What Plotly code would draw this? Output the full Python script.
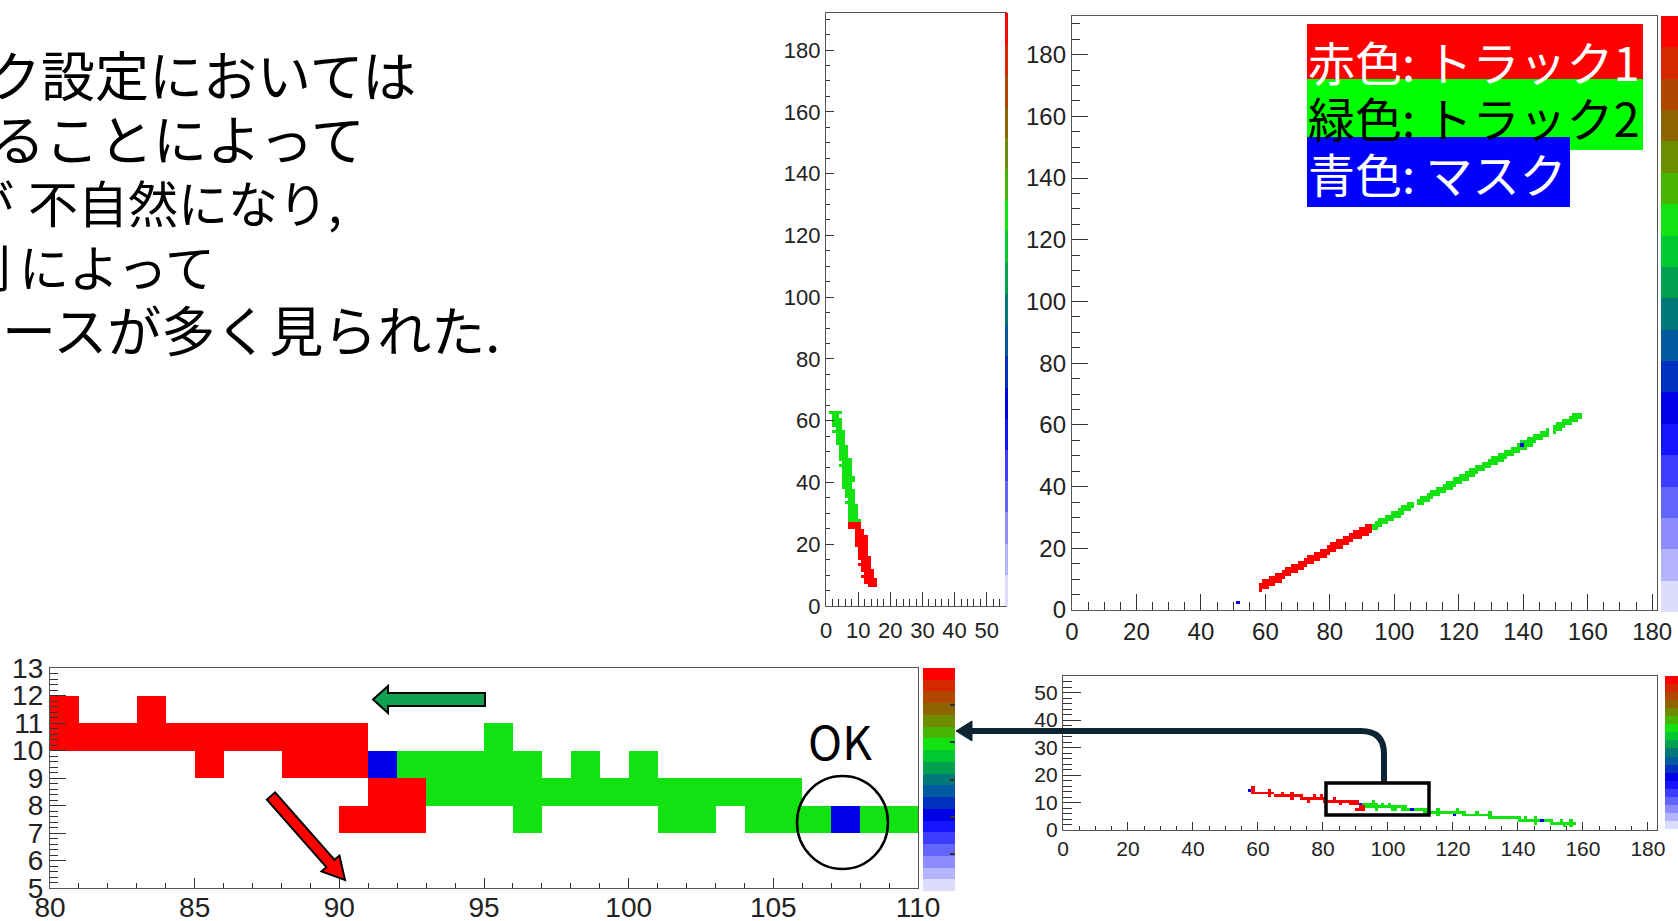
import plotly.graph_objects as go

W, H = 1678, 921

# ---------------- data ----------------
# values used for the colour of a cell
RED, GREEN, BLUE = 3, 2, 1

# Panel B (top right): per x-column, track cells from y_lo..y_hi
B_RED_X0 = 58
B_RED_LO = [6, 7, 7, 8, 8, 9, 9, 10, 11, 11, 12, 12, 13, 13, 14, 15, 15, 16, 16, 17,
            17, 18, 19, 19, 20, 20, 21, 21, 22, 23, 23, 23, 24, 24, 25]
B_RED_HI = [8, 9, 9, 10, 10, 11, 11, 12, 13, 13, 14, 14, 15, 15, 16, 17, 17, 18, 18, 19,
            19, 20, 21, 21, 22, 22, 23, 23, 24, 25, 25, 26, 26, 27, 27]
B_GREEN_X0 = 93
B_GREEN_LO = [26, 26, 27, 28, 28, 29, 29, 30, 30, 31, 32, 32, 33, None, 34, 34, 35, 35, 36, 37,
              37, 38, 38, 39, 39, 40, 41, 41, 42, 42, 43, 43, 44, 45, 45, 46, 46, 47, 47, 48,
              48, 49, 50, 50, 51, 51, 52, 52, 53, 53, 54, 55, 55, 56, 56, None, 57, 58, 58, 59,
              60, 60, 61, 61, 62]
B_GREEN_HI = [27, 28, 29, 29, 30, 30, 31, 31, 32, 33, 33, 34, 34, None, 35, 36, 36, 37, 38, 38,
              39, 39, 40, 41, 41, 42, 42, 43, 43, 44, 45, 45, 46, 46, 47, 47, 48, 49, 49, 50,
              50, 51, 51, 52, 52, 53, 54, 54, 55, 55, 56, 56, 57, 57, 58, None, 59, 60, 60, 61,
              61, 62, 63, 63, 63]
B_BLUE = [[139, 53], [51, 2]]

# Panel A (top middle): per y-row, track cells from x_lo..x_hi
A_RED_Y0 = 6
A_RED_LO = [13, 12, 12, 11, 12, 11, 11, 10, 11, 10, 10, 10, 10, 9, 9, 9, 9, 9, 9, 7, 7]
A_RED_HI = [15, 15, 15, 14, 14, 14, 13, 13, 13, 13, 12, 12, 12, 12, 12, 12, 12, 11, 11, 10, 10]
A_GREEN_Y0 = 27
A_GREEN_LO = [7, 7, 7, 7, 7, 7, 6, 7, 6, 6, 6, 5, 5, 5, 5, 5, 5, 5, 4, 5, 4, 4, 4, 4, 4, 3,
              3, 3, 3, 2, 3, 2, 2, 2, 2, 1]
A_GREEN_HI = [10, 9, 9, 9, 9, 9, 8, 8, 8, 8, 8, 7, 7, 8, 8, 7, 7, 7, 7, 7, 7, 6, 6, 6, 6, 5,
              5, 5, 5, 5, 4, 4, 4, 4, 3, 4]

# Panel C (bottom right) and its zoom, panel D (bottom left): cells [x, y]
C_RED = [[58, 13], [58, 14], [58, 15], [59, 13], [60, 13], [61, 13], [62, 13], [63, 12], [63, 13],
         [63, 14], [64, 13], [65, 12], [66, 12], [67, 12], [67, 13], [68, 12], [69, 12], [70, 11],
         [70, 12], [70, 13], [71, 12], [72, 12], [73, 11], [73, 12], [74, 11], [75, 10], [75, 11],
         [76, 11], [77, 11], [77, 12], [78, 11], [79, 11], [79, 12],
         [80, 10], [80, 11], [81, 10], [82, 10], [83, 10], [83, 11], [84, 10], [85, 9], [85, 10],
         [86, 10], [87, 10], [88, 9], [88, 10], [89, 9], [89, 10], [90, 7], [90, 9], [90, 10],
         [91, 7], [91, 8], [92, 7], [92, 8]]
C_GREEN = [[92, 9], [93, 8], [93, 9], [94, 8], [94, 9], [95, 8], [95, 9], [95, 10], [96, 7], [96, 8],
           [96, 9], [97, 8], [98, 8], [98, 9], [99, 8], [100, 8], [100, 9], [101, 7], [101, 8],
           [102, 7], [102, 8], [103, 8], [104, 7], [104, 8], [105, 7], [105, 8], [106, 7], [108, 7],
           [109, 7], [110, 7], [111, 6], [111, 7], [112, 6], [113, 6], [114, 6], [115, 5], [115, 6],
           [115, 7], [116, 6], [117, 6], [118, 6], [119, 6], [120, 6], [121, 6], [121, 7], [122, 6],
           [123, 5], [123, 6], [124, 5], [125, 5], [126, 5], [127, 5], [127, 6], [128, 5], [129, 5],
           [130, 5], [131, 4], [131, 5], [131, 6], [132, 4], [133, 4], [134, 4], [135, 4], [136, 4],
           [137, 4], [138, 4], [139, 4], [140, 3], [140, 4], [141, 3], [142, 3], [142, 4], [143, 3],
           [144, 3], [145, 2], [145, 3], [145, 4], [146, 3], [148, 3], [149, 3], [150, 2], [150, 3],
           [151, 2], [152, 2], [153, 2], [153, 3], [154, 1], [154, 2], [155, 2], [156, 1], [156, 2],
           [156, 3], [157, 2]]
C_BLUE = [[57, 14], [91, 9], [107, 7], [120, 5], [147, 3]]

# left text block: (hidden prefix cut by the page edge, visible text)
TEXT_PREFIX = ["ッ", "す", "形が", "判別", "ケ"]
TEXT_BODY = ["ク設定においては", "ることによって", "不自然になり,", "によって", "ースが多く見られた."]
LEGEND_LABELS = ["赤色: トラック1", "緑色: トラック2", "青色: マスク"]

PALETTE = ["#dcdcff", "#b4b4ff", "#8c8cff", "#6464ff", "#3c3cff", "#1414ff", "#0000e6",
           "#0030c0", "#005aa0", "#007878", "#00a050", "#00c830", "#12e212", "#46b400",
           "#6e8c00", "#8c6400", "#b04600", "#d62800", "#ff0000"]

# ---------------- helpers ----------------
def xp(px):
    return px / W


def yp(py):
    return 1 - py / H


n = len(PALETTE)
colorscale = []
for i, c in enumerate(PALETTE):
    colorscale.append([i / n, c])
    colorscale.append([(i + 1) / n, c])


def grid(cells, xr, yr):
    x0, x1 = xr
    y0, y1 = yr
    z = [[None] * (x1 - x0) for _ in range(y1 - y0)]
    for x, y, v in cells:
        if x0 <= x < x1 and y0 <= y < y1:
            z[y - y0][x - x0] = v
    xs = [x0 + i + 0.5 for i in range(x1 - x0)]
    ys = [y0 + j + 0.5 for j in range(y1 - y0)]
    return xs, ys, z


# panel B cells
cells_B = []
for i, (lo, hi) in enumerate(zip(B_RED_LO, B_RED_HI)):
    for y in range(lo, hi + 1):
        cells_B.append((B_RED_X0 + i, y, RED))
for i, (lo, hi) in enumerate(zip(B_GREEN_LO, B_GREEN_HI)):
    if lo is None:
        continue
    for y in range(lo, hi + 1):
        cells_B.append((B_GREEN_X0 + i, y, GREEN))
for x, y in B_BLUE:
    cells_B.append((x, y, BLUE))

# panel A cells
cells_A = []
for j, (lo, hi) in enumerate(zip(A_RED_LO, A_RED_HI)):
    for x in range(lo, hi + 1):
        cells_A.append((x, A_RED_Y0 + j, RED))
for j, (lo, hi) in enumerate(zip(A_GREEN_LO, A_GREEN_HI)):
    for x in range(lo, hi + 1):
        cells_A.append((x, A_GREEN_Y0 + j, GREEN))

# panel C / D cells
cells_C = [(x, y, RED) for x, y in C_RED] + [(x, y, GREEN) for x, y in C_GREEN] + \
          [(x, y, BLUE) for x, y in C_BLUE]


def cbar(x_px, top_px, bottom_px, thick, ticks=""):
    return dict(x=xp(x_px), xanchor="left", y=yp(top_px), yanchor="top",
                len=(bottom_px - top_px) / H, lenmode="fraction",
                thickness=thick, thicknessmode="pixels", xpad=0, ypad=0,
                outlinewidth=0, showticklabels=False, ticks=ticks, ticklen=5,
                tickcolor="#333", tickwidth=1.5, tick0=0, dtick=0.5)


fig = go.Figure()

xa, ya, za = grid(cells_A, (0, 20), (0, 70))
fig.add_trace(go.Heatmap(x=xa, y=ya, z=za, zmin=0, zmax=3, colorscale=colorscale,
                         xaxis="x", yaxis="y", colorbar=cbar(1005, 13, 606, 3),
                         hoverinfo="skip"))
xb, yb, zb = grid(cells_B, (45, 160), (0, 66))
fig.add_trace(go.Heatmap(x=xb, y=yb, z=zb, zmin=0, zmax=3, colorscale=colorscale,
                         xaxis="x2", yaxis="y2", colorbar=cbar(1661, 16, 612, 17),
                         hoverinfo="skip"))
xc, yc, zc = grid(cells_C, (50, 160), (0, 20))
fig.add_trace(go.Heatmap(x=xc, y=yc, z=zc, zmin=0, zmax=3, colorscale=colorscale,
                         xaxis="x3", yaxis="y3", colorbar=cbar(1665, 676, 829, 13),
                         hoverinfo="skip"))
fig.add_trace(go.Heatmap(x=xc, y=yc, z=zc, zmin=0, zmax=3, colorscale=colorscale,
                         xaxis="x4", yaxis="y4", colorbar=cbar(923, 668, 891, 32, "inside"),
                         hoverinfo="skip"))

FONT_NUM = "Liberation Sans, Arial, Helvetica, sans-serif"


def axis(dom, rng, dtick, mdtick, tlen, mlen, fsize, anchor, standoff=0):
    return dict(domain=dom, range=rng, anchor=anchor, showline=True, mirror=True,
                linecolor="#555", linewidth=1.3, ticks="inside", ticklen=tlen,
                tickwidth=1.3, tickcolor="#333", tick0=0, dtick=dtick,
                ticklabelstandoff=standoff,
                minor=dict(ticks="inside", ticklen=mlen, tickwidth=1.1, tickcolor="#333",
                           tick0=0, dtick=mdtick, showgrid=False),
                showgrid=False, zeroline=False,
                tickfont=dict(family=FONT_NUM, size=fsize, color="#222"))


def xdom(a, b):
    return [xp(a), xp(b)]


def ydom(a, b):
    return [yp(b), yp(a)]


fig.update_layout(
    width=W, height=H,
    margin=dict(l=0, r=0, t=0, b=0, pad=0, autoexpand=False),
    paper_bgcolor="white", plot_bgcolor="white", showlegend=False,
    xaxis=axis(xdom(826, 1006), [0, 56], 10, 2, 14, 7, 22, "y", 4),
    yaxis=axis(ydom(13, 606), [0, 192], 20, 5, 8, 4, 22, "x"),
    xaxis2=axis(xdom(1072, 1657), [0, 181.5], 20, 5, 16, 8, 24, "y2"),
    yaxis2=axis(ydom(16, 610), [0, 192.5], 20, 5, 16, 8, 24, "x2"),
    xaxis3=axis(xdom(1063, 1657), [0, 182.8], 20, 5, 8, 4, 21, "y3"),
    yaxis3=axis(ydom(676, 830), [0, 56], 10, 2, 18, 9, 21, "x3"),
    xaxis4=axis(xdom(50, 918), [80, 110], 5, 1, 10, 5, 28, "y4", -6),
    yaxis4=axis(ydom(668, 888), [5, 13], 1, 0.2, 16, 8, 28, "x4"),
)

# ---------- text block on the left ----------
CJK = "Noto Sans CJK JP"
PREFIX_END = [-13, -9, 14, 11, 2]      # right end of the hidden prefix (px)
BODY_X = [-13, -9, 28, 19, 2]          # start of the visible text (px)
TEXT_Y = [73, 137, 201, 265, 329]
TEXT_SIZE = [54, 54, 50, 50, 54]
anns = []
for pre, body, pe, bx_, y, fs in zip(TEXT_PREFIX, TEXT_BODY, PREFIX_END, BODY_X, TEXT_Y,
                                     TEXT_SIZE):
    anns.append(dict(text=pre, x=xp(pe), y=yp(y), xref="paper", yref="paper",
                     xanchor="right", yanchor="middle", showarrow=False,
                     borderpad=0, borderwidth=0,
                     font=dict(family=CJK, size=fs, color="black")))
    anns.append(dict(text=body, x=xp(bx_), y=yp(y), xref="paper", yref="paper",
                     xanchor="left", yanchor="middle", showarrow=False,
                     borderpad=0, borderwidth=0,
                     font=dict(family=CJK, size=fs, color="black")))

# ---------- legend boxes in panel B ----------
shapes = []
box_specs = [((1307, 24, 1643, 79), "#ff0000", "white", 60),
             ((1307, 79, 1643, 150), "#00ff00", "black", 116),
             ((1307, 137, 1570, 207), "#0000ff", "white", 173)]
for (x0, y0, x1, y1), fill, _, _ in box_specs:
    shapes.append(dict(type="rect", xref="paper", yref="paper", x0=xp(x0), x1=xp(x1),
                       y0=yp(y1), y1=yp(y0), fillcolor=fill, line=dict(width=0)))
for lab, ((x0, y0, x1, y1), fill, tcol, yc_) in zip(LEGEND_LABELS, box_specs):
    anns.append(dict(text=lab, x=xp(x0 + 1), y=yp(yc_), xref="paper", yref="paper",
                     xanchor="left", yanchor="middle", showarrow=False,
                     borderpad=0, borderwidth=0,
                     font=dict(family=CJK, size=47, color=tcol)))


def path(points):
    s = "M " + " L ".join(f"{xp(x):.5f},{yp(y):.5f}" for x, y in points) + " Z"
    return s


# green arrow (left pointing)
shapes.append(dict(type="path", xref="paper", yref="paper",
                   path=path([(373, 699.5), (388, 686), (388, 693), (485, 693), (485, 706),
                              (388, 706), (388, 713)]),
                   fillcolor="#10a050", line=dict(color="black", width=2)))

# red diagonal arrow
tx, ty = 271, 796
px_, py_ = 345, 880
dx, dy = px_ - tx, py_ - ty
L = (dx * dx + dy * dy) ** 0.5
ux, uy = dx / L, dy / L
nx_, ny_ = -uy, ux
bw, hw, hl = 5.5, 12, 22
bx, by = px_ - hl * ux, py_ - hl * uy
shapes.append(dict(type="path", xref="paper", yref="paper",
                   path=path([(tx + bw * nx_, ty + bw * ny_), (bx + bw * nx_, by + bw * ny_),
                              (bx + hw * nx_, by + hw * ny_), (px_, py_),
                              (bx - hw * nx_, by - hw * ny_), (bx - bw * nx_, by - bw * ny_),
                              (tx - bw * nx_, ty - bw * ny_)]),
                   fillcolor="#ff0000", line=dict(color="black", width=2)))

# OK circle
shapes.append(dict(type="circle", xref="paper", yref="paper", x0=xp(797), x1=xp(888),
                   y0=yp(869), y1=yp(776), line=dict(color="black", width=2.5)))
anns.append(dict(text="OK", x=xp(840), y=yp(740), xref="paper", yref="paper",
                 xanchor="center", yanchor="middle", showarrow=False,
                 font=dict(family=CJK, size=46, color="black")))

# connector from panel C box to panel D colour bar
NAVY = "#0c2434"
shapes.append(dict(type="path", xref="paper", yref="paper",
                   path=(f"M {xp(1384):.5f},{yp(783):.5f} L {xp(1384):.5f},{yp(754):.5f} "
                         f"Q {xp(1384):.5f},{yp(731):.5f} {xp(1361):.5f},{yp(731):.5f} "
                         f"L {xp(968):.5f},{yp(731):.5f}"),
                   line=dict(color=NAVY, width=6)))
shapes.append(dict(type="path", xref="paper", yref="paper",
                   path=path([(956, 731), (972, 721), (972, 741)]),
                   fillcolor=NAVY, line=dict(color=NAVY, width=1)))
shapes.append(dict(type="rect", xref="paper", yref="paper", x0=xp(1326), x1=xp(1429),
                   y0=yp(815), y1=yp(783), line=dict(color="black", width=3.5)))

fig.update_layout(annotations=anns, shapes=shapes)
fig.write_html("out.html")
